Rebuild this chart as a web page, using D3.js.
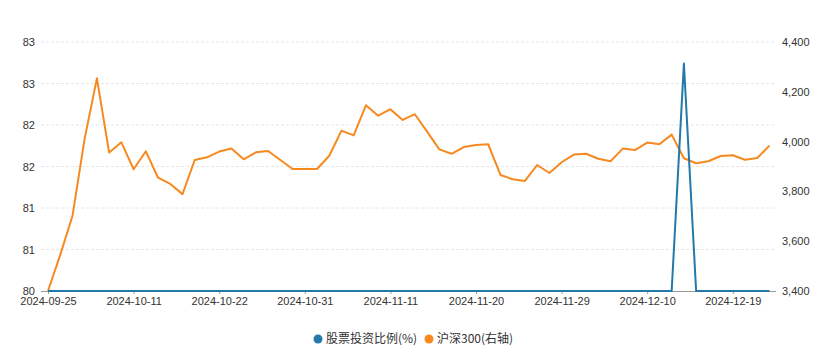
<!DOCTYPE html>
<html>
<head>
<meta charset="utf-8">
<script src="https://cdn.jsdelivr.net/npm/d3@7"></script>
<style>
  html, body { margin: 0; padding: 0; background: #fff; }
  svg { display: block; font-family: "Liberation Sans", "Noto Sans CJK SC", sans-serif; }
</style>
</head>
<body>
<svg id="chart" width="822" height="354"></svg>
<script>
// ---- data ----
const dates = [
  "2024-09-25","2024-09-26","2024-09-27","2024-09-30","2024-10-08","2024-10-09","2024-10-10","2024-10-11",
  "2024-10-14","2024-10-15","2024-10-16","2024-10-17","2024-10-18","2024-10-21","2024-10-22","2024-10-23",
  "2024-10-24","2024-10-25","2024-10-28","2024-10-29","2024-10-30","2024-10-31","2024-11-01","2024-11-04",
  "2024-11-05","2024-11-06","2024-11-07","2024-11-08","2024-11-11","2024-11-12","2024-11-13","2024-11-14",
  "2024-11-15","2024-11-18","2024-11-19","2024-11-20","2024-11-21","2024-11-22","2024-11-25","2024-11-26",
  "2024-11-27","2024-11-28","2024-11-29","2024-12-02","2024-12-03","2024-12-04","2024-12-05","2024-12-06",
  "2024-12-09","2024-12-10","2024-12-11","2024-12-12","2024-12-13","2024-12-16","2024-12-17","2024-12-18",
  "2024-12-19","2024-12-20","2024-12-23","2024-12-24"
];
const stockRatio = [
  80,80,80,80,80,80,80,80,80,80,80,80,80,80,80,80,80,80,80,80,
  80,80,80,80,80,80,80,80,80,80,80,80,80,80,80,80,80,80,80,80,
  80,80,80,80,80,80,80,80,80,80,80,80,82.74,80,80,80,80,80,80,80
];
const csi300 = [
  3400,3545,3701,4013,4254,3956,3997,3889,3961,3855,3830,3789,3926,3937,3960,3972,
  3929,3957,3962,3926,3890,3890,3890,3943,4044,4025,4146,4104,4130,4087,4110,4040,
  3969,3951,3978,3986,3989,3866,3849,3842,3906,3874,3917,3948,3951,3931,3921,3972,
  3966,3996,3989,4028,3933,3913,3921,3942,3945,3927,3934,3984
];
const xTickLabels = ["2024-09-25","2024-10-11","2024-10-22","2024-10-31","2024-11-11","2024-11-20","2024-11-29","2024-12-10","2024-12-19"];
const leftTicks = [80, 80.5, 81, 81.5, 82, 82.5, 83];
const rightTicks = [3400, 3600, 3800, 4000, 4200, 4400];
const seriesNames = ["股票投资比例(%)", "沪深300(右轴)"];
const colors = ["#2479a9", "#f7891f"];

// ---- layout ----
const svg = d3.select("#chart");
const x = d3.scalePoint().domain(dates).range([48, 769.5]);
const yL = d3.scaleLinear().domain([80, 83]).range([291, 42]);
const yR = d3.scaleLinear().domain([3400, 4400]).range([291, 42]);
const gridX0 = 41, gridX1 = 776;

// gridlines
svg.append("g").selectAll("line").data(leftTicks.slice(1)).join("line")
  .attr("x1", gridX0).attr("x2", gridX1)
  .attr("y1", d => yL(d)).attr("y2", d => yL(d))
  .attr("stroke", "#e4e6ec").attr("stroke-width", 1).attr("stroke-dasharray", "3,2");

// left axis
const leftAxis = svg.append("g").attr("transform", `translate(${gridX0},0)`)
  .call(d3.axisLeft(yL).tickValues(leftTicks).tickFormat(d3.format(".0f")).tickSize(0).tickPadding(6));
leftAxis.select(".domain").remove();
leftAxis.selectAll("text").attr("font-size", 11).attr("fill", "#333");

// right axis
const rightAxis = svg.append("g").attr("transform", `translate(${gridX1},0)`)
  .call(d3.axisRight(yR).tickValues(rightTicks).tickFormat(d3.format(",")).tickSize(0).tickPadding(6));
rightAxis.select(".domain").remove();
rightAxis.selectAll("text").attr("font-size", 11).attr("fill", "#333");

// bottom axis
const bottomAxis = svg.append("g").attr("transform", `translate(0,291)`)
  .call(d3.axisBottom(x).tickValues(xTickLabels).tickSize(3).tickPadding(3));
bottomAxis.select(".domain").attr("d", `M${gridX0},0.5H${gridX1}`).attr("stroke", "#9a9a9a");
bottomAxis.selectAll(".tick line").attr("stroke", "#9a9a9a");
bottomAxis.selectAll("text").attr("font-size", 11).attr("fill", "#333");

// lines
const lineL = d3.line().x((d, i) => x(dates[i])).y(d => yL(d));
const lineR = d3.line().x((d, i) => x(dates[i])).y(d => yR(d));
svg.append("path").datum(csi300).attr("d", lineR)
  .attr("fill", "none").attr("stroke", colors[1]).attr("stroke-width", 2).attr("stroke-linejoin", "round");
svg.append("path").datum(stockRatio).attr("d", lineL)
  .attr("fill", "none").attr("stroke", colors[0]).attr("stroke-width", 2).attr("stroke-linejoin", "round");

// legend
const legend = svg.append("g").attr("transform", "translate(0,339)");
const items = [{x: 318, name: seriesNames[0], c: colors[0]}, {x: 429, name: seriesNames[1], c: colors[1]}];
items.forEach(it => {
  legend.append("circle").attr("cx", it.x).attr("cy", 0).attr("r", 4.5).attr("fill", it.c);
  legend.append("text").attr("x", it.x + 8).attr("y", 0).attr("dy", "0.35em")
    .attr("font-size", 12).attr("fill", "#333")
    .attr("font-family", "'Noto Sans CJK SC', sans-serif").text(it.name);
});
</script>
</body>
</html>
